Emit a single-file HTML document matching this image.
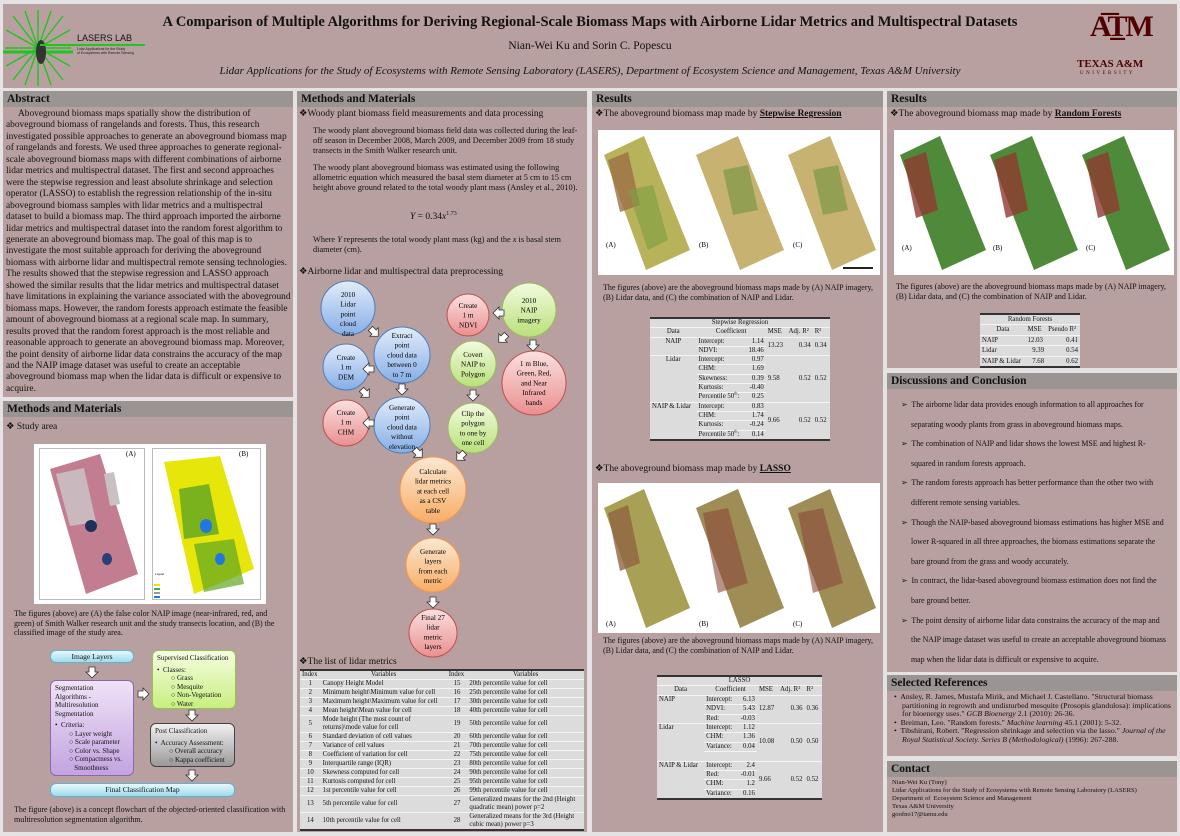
<!DOCTYPE html>
<html><head><meta charset="utf-8">
<style>
*{margin:0;padding:0;box-sizing:border-box}
body{width:1180px;height:836px;background:#e4e2e2;position:relative;overflow:hidden;font-family:"Liberation Serif",serif;color:#111}
.a{position:absolute}
.panel{position:absolute;background:#b7a09f}
.hd{position:absolute;background:#9a9493;font-weight:bold;font-size:11.5px;padding:1px 4px;line-height:14px;color:#111}
.t{position:absolute;font-size:8px;line-height:10px}
table{border-collapse:collapse;font-family:"Liberation Serif",serif;background:#dcdcdc}
td,th{font-weight:normal;padding:0 2px;border-bottom:1px solid #f4f4f4}
.tb{border-top:2px solid #333;border-bottom:2px solid #333}
.sub{font-size:9.5px;position:absolute}
.box{position:absolute;border-radius:6px;font-size:7px;line-height:8.5px}
sup{line-height:0}
</style></head><body>

<!-- HEADER -->
<div class="panel" style="left:3px;top:4px;width:1174px;height:84px"></div>
<svg class="a" style="left:3px;top:8px" width="70" height="80">
<g stroke="#22c322" stroke-width="1.4">
<line x1="35" y1="2" x2="35" y2="78"/><line x1="10" y1="8" x2="60" y2="72"/><line x1="60" y1="8" x2="10" y2="72"/>
<line x1="2" y1="40" x2="68" y2="40"/><line x1="3" y1="22" x2="67" y2="58"/><line x1="3" y1="58" x2="67" y2="22"/>
<line x1="22" y1="3" x2="48" y2="77"/><line x1="48" y1="3" x2="22" y2="77"/></g>
<line x1="0" y1="44" x2="70" y2="44" stroke="#22c322" stroke-width="3"/>
<ellipse cx="38" cy="44" rx="5" ry="12" fill="#333"/></svg>
<div class="a" style="left:40px;top:44px;width:105px;height:2px;background:#22c322"></div>
<div class="a" style="left:77px;top:33px;font-family:'Liberation Sans',sans-serif;font-size:9px;color:#111">LASERS LAB</div>
<div class="a" style="left:77px;top:47px;font-family:'Liberation Sans',sans-serif;font-size:3.5px;line-height:4px;color:#222">Lidar Applications for the Study<br>of Ecosystems with Remote Sensing</div>
<div class="a" style="left:0;width:1180px;top:14px;text-align:center;font-size:14.5px;font-weight:bold">A Comparison of Multiple Algorithms for Deriving Regional-Scale Biomass Maps with Airborne Lidar Metrics and Multispectral Datasets</div>
<div class="a" style="left:0;width:1180px;top:40px;text-align:center;font-size:11.5px">Nian-Wei Ku and Sorin C. Popescu</div>
<div class="a" style="left:0;width:1180px;top:65px;text-align:center;font-size:11px;font-style:italic">Lidar Applications for the Study of Ecosystems with Remote Sensing Laboratory (LASERS), Department of Ecosystem Science and Management, Texas A&amp;M University</div>
<div class="a" style="left:1090px;top:10px;font-size:30px;font-weight:bold;color:#500000;letter-spacing:-2px;font-family:'Liberation Serif',serif">A͞T̲M</div>
<div class="a" style="left:1077px;top:58px;font-size:11px;font-weight:bold;color:#500000">TEXAS A&amp;M</div>
<div class="a" style="left:1080px;top:71px;font-size:5px;letter-spacing:2.5px;color:#500000">UNIVERSITY</div>

<!-- COLUMN 1 -->
<div class="panel" style="left:3px;top:91px;width:290px;height:306px"></div>
<div class="hd" style="left:3px;top:91px;width:290px">Abstract</div>
<div class="t" style="left:6px;top:109px;width:285px;font-size:9.4px;line-height:11.45px;text-indent:12px">Aboveground biomass maps spatially show the distribution of aboveground biomass of rangelands and forests. Thus, this research investigated possible approaches to generate an aboveground biomass map of rangelands and forests. We used three approaches to generate regional-scale aboveground biomass maps with different combinations of airborne lidar metrics and multispectral dataset. The first and second approaches were the stepwise regression and least absolute shrinkage and selection operator (LASSO) to establish the regression relationship of the in-situ aboveground biomass samples with lidar metrics and a multispectral dataset to build a biomass map. The third approach imported the airborne lidar metrics and multispectral dataset into the random forest algorithm to generate an aboveground biomass map. The goal of this map is to investigate the most suitable approach for deriving the aboveground biomass with airborne lidar and multispectral remote sensing technologies. The results showed that the stepwise regression and LASSO approach showed the similar results that the lidar metrics and multispectral dataset have limitations in explaining the variance associated with the aboveground biomass maps. However, the random forests approach estimate the feasible amount of aboveground biomass at a regional scale map. In summary, results proved that the random forest approach is the most reliable and reasonable approach to generate an aboveground biomass map. Moreover, the point density of airborne lidar data constrains the accuracy of the map and the NAIP image dataset was useful to create an acceptable aboveground biomass map when the lidar data is difficult or expensive to acquire.</div>

<div class="panel" style="left:3px;top:401px;width:290px;height:431px"></div>
<div class="hd" style="left:3px;top:401px;width:290px">Methods and Materials</div>
<div class="sub" style="left:6px;top:421px">❖ Study area</div>
<div class="a" style="left:34px;top:444px;width:232px;height:160px;background:#fff"></div>
<div class="a" style="left:39px;top:448px;width:106px;height:152px;border:1px solid #bbb"></div>
<div class="a" style="left:152px;top:448px;width:109px;height:152px;border:1px solid #bbb"></div>
<svg class="a" style="left:34px;top:444px" width="232" height="160">
<polygon points="16,25 66,10 104,130 52,150" fill="#c27e90"/>
<polygon points="22,30 50,24 62,78 36,82" fill="#c9b8bd"/>
<polygon points="70,30 80,28 86,60 76,62" fill="#c9c0c2"/>
<ellipse cx="57" cy="82" rx="6" ry="6" fill="#1f2f55"/>
<ellipse cx="73" cy="115" rx="5" ry="6" fill="#2a3f77"/>
<polygon points="130,18 186,12 220,125 160,150" fill="#e6e60a"/>
<polygon points="145,45 175,40 185,90 150,95" fill="#5fa522" opacity=".8"/>
<polygon points="160,100 200,95 210,140 170,148" fill="#5fa522" opacity=".7"/>
<ellipse cx="172" cy="82" rx="6" ry="7" fill="#2277dd"/>
<ellipse cx="186" cy="115" rx="5" ry="6" fill="#2277dd"/>
<text x="92" y="12" font-size="7" font-family="Liberation Serif">(A)</text>
<text x="205" y="12" font-size="7" font-family="Liberation Serif">(B)</text>
<text x="121" y="131" font-size="3" font-family="Liberation Serif">Legend</text>
<rect x="120" y="140" width="6" height="2" fill="#e6e60a"/><rect x="120" y="144" width="6" height="2" fill="#4a4"/><rect x="120" y="148" width="6" height="2" fill="#999"/><rect x="120" y="152" width="6" height="2" fill="#27d"/>
</svg>
<div class="t" style="left:14px;top:609px;width:275px;font-size:8px;line-height:9.5px">The figures (above) are (A) the false color NAIP image (near-infrared, red, and green) of Smith Walker research unit and the study transects location, and (B) the classified image of the study area.</div>

<div class="box" style="left:50px;top:650px;width:84px;height:13px;background:linear-gradient(#e6f7fc,#9edcec);border:1px solid #5fb3d0;text-align:center;line-height:11px;font-size:7.5px">Image Layers</div>
<div class="box" style="left:50px;top:680px;width:84px;height:96px;background:linear-gradient(#efe3f7,#c3a3e0);border:1px solid #8a67b0;padding:3px 4px">Segmentation<br>Algorithms -<br>Multiresolution<br>Segmentation<br><div style="margin-top:3px">•&nbsp; Criteria:</div><div style="padding-left:14px">○ Layer weight<br>○ Scale parameter<br>○ Color vs. Shape<br>○ Compactness vs.<br>&nbsp;&nbsp;&nbsp;Smoothness</div></div>
<div class="box" style="left:152px;top:650px;width:84px;height:59px;background:linear-gradient(#f5fde0,#c8ef80);border:1px solid #98c050;padding:3px 4px">Supervised Classification<div style="margin-top:3px">•&nbsp; Classes:</div><div style="padding-left:14px">○ Grass<br>○ Mesquite<br>○ Non-Vegetation<br>○ Water</div></div>
<div class="box" style="left:150px;top:723px;width:85px;height:44px;background:linear-gradient(#f0f0f0,#9a9a9a);border:1px solid #444;padding:3px 4px">Post Classification<div style="margin-top:3px">•&nbsp; Accuracy Assessment:</div><div style="padding-left:14px">○ Overall accuracy<br>○ Kappa coefficient</div></div>
<div class="box" style="left:50px;top:783px;width:185px;height:14px;background:linear-gradient(#e6f7fc,#9edcec);border:1px solid #5fb3d0;text-align:center;line-height:12px;font-size:7.5px">Final Classification Map</div>
<svg class="a" style="left:0;top:640px" width="296" height="150">
<defs><g id="ad"><polygon points="-3,-5 3,-5 3,0 6,0 0,6 -6,0 -3,0" fill="#fff" stroke="#333" stroke-width=".8"/></g></defs>
<use href="#ad" x="92" y="32"/><use href="#ad" x="192" y="75"/><use href="#ad" x="192" y="135"/>
<use href="#ad" transform="translate(143,54) rotate(-90)"/>
</svg>
<div class="t" style="left:14px;top:805px;width:280px;font-size:8px;line-height:9.5px">The figure (above) is a concept flowchart of the objected-oriented classification with multiresolution segmentation algorithm.</div>

<!-- COLUMN 2 -->
<div class="panel" style="left:297px;top:91px;width:290px;height:741px"></div>
<div class="hd" style="left:297px;top:91px;width:290px">Methods and Materials</div>
<div class="sub" style="left:299px;top:108px">❖Woody plant biomass field measurements and data processing</div>
<div class="t" style="left:313px;top:126px;width:270px;font-size:8.3px;line-height:10px">The woody plant aboveground biomass field data was collected during the leaf-off season in December 2008, March 2009, and December 2009 from 18 study transects in the Smith Walker research unit.</div>
<div class="t" style="left:313px;top:163px;width:270px;font-size:8.3px;line-height:10px">The woody plant aboveground biomass was estimated using the following allometric equation which measured the basal stem diameter at 5 cm to 15 cm height above ground related to the total woody plant mass (Ansley et al., 2010).</div>
<div class="t" style="left:410px;top:212px;font-size:9.5px"><i>Y</i> = 0.34<i>x</i><sup style="font-size:6px">1.73</sup></div>
<div class="t" style="left:313px;top:235px;width:270px;font-size:8.3px;line-height:10px">Where <i>Y</i> represents the total woody plant mass (kg) and the <i>x</i> is basal stem diameter (cm).</div>
<div class="sub" style="left:299px;top:266px">❖Airborne lidar and multispectral data preprocessing</div>

<svg class="a" style="left:297px;top:270px" width="290" height="390" font-family="Liberation Serif" font-size="7.2" text-anchor="middle">
<defs>
<linearGradient id="gb" x1="0" y1="0" x2="0" y2="1"><stop offset="0" stop-color="#e2ecfb"/><stop offset="1" stop-color="#86aee6"/></linearGradient>
<linearGradient id="gr" x1="0" y1="0" x2="0" y2="1"><stop offset="0" stop-color="#fbe0e0"/><stop offset="1" stop-color="#ea8f8f"/></linearGradient>
<linearGradient id="gg" x1="0" y1="0" x2="0" y2="1"><stop offset="0" stop-color="#f2fbdf"/><stop offset="1" stop-color="#b9e07a"/></linearGradient>
<linearGradient id="go" x1="0" y1="0" x2="0" y2="1"><stop offset="0" stop-color="#fde8d2"/><stop offset="1" stop-color="#f7ad66"/></linearGradient>
<g id="ar"><polygon points="-3,-5 3,-5 3,0 6,0 0,6 -6,0 -3,0" fill="#fff" stroke="#333" stroke-width=".8"/></g>
</defs>
<g stroke-width="1">
<circle cx="51" cy="38" r="27" fill="url(#gb)" stroke="#4a7ebb"/>
<circle cx="105" cy="85" r="28" fill="url(#gb)" stroke="#4a7ebb"/>
<circle cx="49" cy="97" r="23" fill="url(#gb)" stroke="#4a7ebb"/>
<circle cx="105" cy="155" r="28" fill="url(#gb)" stroke="#4a7ebb"/>
<circle cx="49" cy="153" r="23" fill="url(#gr)" stroke="#c0504d"/>
<circle cx="171" cy="45" r="21" fill="url(#gr)" stroke="#c0504d"/>
<circle cx="232" cy="40" r="27" fill="url(#gg)" stroke="#9bbb59"/>
<circle cx="176" cy="94" r="23" fill="url(#gg)" stroke="#9bbb59"/>
<circle cx="237" cy="113" r="32" fill="url(#gr)" stroke="#c0504d"/>
<circle cx="176" cy="158" r="25" fill="url(#gg)" stroke="#9bbb59"/>
<circle cx="136" cy="220" r="33" fill="url(#go)" stroke="#f79646"/>
<circle cx="136" cy="295" r="27" fill="url(#go)" stroke="#f79646"/>
<circle cx="136" cy="363" r="24" fill="url(#gr)" stroke="#c0504d"/>
</g>
<text x="51" y="27">2010<tspan x="51" dy="9.7">Lidar</tspan><tspan x="51" dy="9.7">point</tspan><tspan x="51" dy="9.7">cloud</tspan><tspan x="51" dy="9.7">data</tspan></text>
<text x="105" y="68">Extract<tspan x="105" dy="9.7">point</tspan><tspan x="105" dy="9.7">cloud data</tspan><tspan x="105" dy="9.7">between 0</tspan><tspan x="105" dy="9.7">to 7 m</tspan></text>
<text x="49" y="90">Create<tspan x="49" dy="9.7">1 m</tspan><tspan x="49" dy="9.7">DEM</tspan></text>
<text x="105" y="140">Generate<tspan x="105" dy="9.7">point</tspan><tspan x="105" dy="9.7">cloud data</tspan><tspan x="105" dy="9.7">without</tspan><tspan x="105" dy="9.7">elevation</tspan></text>
<text x="49" y="145">Create<tspan x="49" dy="9.7">1 m</tspan><tspan x="49" dy="9.7">CHM</tspan></text>
<text x="171" y="38">Create<tspan x="171" dy="9.7">1 m</tspan><tspan x="171" dy="9.7">NDVI</tspan></text>
<text x="232" y="33">2010<tspan x="232" dy="9.7">NAIP</tspan><tspan x="232" dy="9.7">imagery</tspan></text>
<text x="176" y="87">Covert<tspan x="176" dy="9.7">NAIP to</tspan><tspan x="176" dy="9.7">Polygon</tspan></text>
<text x="237" y="96">1 m Blue,<tspan x="237" dy="9.7">Green, Red,</tspan><tspan x="237" dy="9.7">and Near</tspan><tspan x="237" dy="9.7">Infrared</tspan><tspan x="237" dy="9.7">bands</tspan></text>
<text x="176" y="146">Clip the<tspan x="176" dy="9.7">polygon</tspan><tspan x="176" dy="9.7">to one by</tspan><tspan x="176" dy="9.7">one cell</tspan></text>
<text x="136" y="204">Calculate<tspan x="136" dy="9.7">lidar metrics</tspan><tspan x="136" dy="9.7">at each cell</tspan><tspan x="136" dy="9.7">as a CSV</tspan><tspan x="136" dy="9.7">table</tspan></text>
<text x="136" y="284">Generate<tspan x="136" dy="9.7">layers</tspan><tspan x="136" dy="9.7">from each</tspan><tspan x="136" dy="9.7">metric</tspan></text>
<text x="136" y="350">Final 27<tspan x="136" dy="9.7">lidar</tspan><tspan x="136" dy="9.7">metric</tspan><tspan x="136" dy="9.7">layers</tspan></text>
<use href="#ar" transform="translate(77,62) rotate(-45)"/>
<use href="#ar" transform="translate(72,99) rotate(90)"/>
<use href="#ar" x="105" y="119"/>
<use href="#ar" transform="translate(68,123) rotate(-45)"/>
<use href="#ar" transform="translate(72,153) rotate(90)"/>
<use href="#ar" transform="translate(202,43) rotate(90)"/>
<use href="#ar" transform="translate(206,68) rotate(45)"/>
<use href="#ar" x="236" y="75"/>
<use href="#ar" x="176" y="125"/>
<use href="#ar" transform="translate(121,183) rotate(-45)"/>
<use href="#ar" transform="translate(164,186) rotate(45)"/>
<use href="#ar" x="136" y="259"/>
<use href="#ar" x="136" y="332"/>
</svg>

<div class="sub" style="left:299px;top:656px">❖The list of lidar metrics</div>
<table class="a tb" style="left:300px;top:669px;width:284px;font-size:6.8px;line-height:8px">
<tr style="border-bottom:1px solid #333"><td>Index</td><td style="text-align:center">Variables</td><td>Index</td><td style="text-align:center">Variables</td></tr>
<tr><td align="center">1</td><td>Canopy Height Model</td><td align="center">15</td><td>20th percentile value for cell</td></tr>
<tr><td align="center">2</td><td>Minimum height\Minimum value for cell</td><td align="center">16</td><td>25th percentile value for cell</td></tr>
<tr><td align="center">3</td><td>Maximum height\Maximum value for cell</td><td align="center">17</td><td>30th percentile value for cell</td></tr>
<tr><td align="center">4</td><td>Mean height\Mean value for cell</td><td align="center">18</td><td>40th percentile value for cell</td></tr>
<tr><td align="center">5</td><td>Mode height (The most count of<br>returns)\mode value for cell</td><td align="center">19</td><td>50th percentile value for cell</td></tr>
<tr><td align="center">6</td><td>Standard deviation of cell values</td><td align="center">20</td><td>60th percentile value for cell</td></tr>
<tr><td align="center">7</td><td>Variance of cell values</td><td align="center">21</td><td>70th percentile value for cell</td></tr>
<tr><td align="center">8</td><td>Coefficient of variation for cell</td><td align="center">22</td><td>75th percentile value for cell</td></tr>
<tr><td align="center">9</td><td>Interquartile range (IQR)</td><td align="center">23</td><td>80th percentile value for cell</td></tr>
<tr><td align="center">10</td><td>Skewness computed for cell</td><td align="center">24</td><td>90th percentile value for cell</td></tr>
<tr><td align="center">11</td><td>Kurtosis computed for cell</td><td align="center">25</td><td>95th percentile value for cell</td></tr>
<tr><td align="center">12</td><td>1st percentile value for cell</td><td align="center">26</td><td>99th percentile value for cell</td></tr>
<tr><td align="center">13</td><td>5th percentile value for cell</td><td align="center">27</td><td>Generalized means for the 2nd (Height<br>quadratic mean) power p=2</td></tr>
<tr><td align="center">14</td><td>10th percentile value for cell</td><td align="center">28</td><td>Generalized means for the 3rd (Height<br>cubic mean) power p=3</td></tr>
</table>

<!-- COLUMN 3 -->
<div class="panel" style="left:592px;top:91px;width:291px;height:741px"></div>
<div class="hd" style="left:592px;top:91px;width:291px">Results</div>
<div class="sub" style="left:595px;top:108px">❖The aboveground biomass map made by <b><u>Stepwise Regression</u></b></div>
<svg class="a" style="left:598px;top:130px" width="282" height="145" font-family="Liberation Serif">
<rect width="282" height="145" fill="#fff"/>
<polygon points="6,25 46,6 92,120 48,140" fill="#b8b25a"/>
<polygon points="10,30 30,22 42,75 22,82" fill="#9c6f45" opacity=".8"/>
<polygon points="30,60 55,55 70,110 50,120" fill="#79a040" opacity=".6"/>
<polygon points="98,25 140,6 186,120 142,140" fill="#c8b272"/>
<polygon points="125,40 150,35 160,80 135,85" fill="#6f9540" opacity=".6"/>
<polygon points="190,25 232,6 278,120 234,140" fill="#c8b272"/>
<polygon points="215,40 240,35 250,80 225,85" fill="#6f9540" opacity=".6"/>
<text x="8" y="117" font-size="7">(A)</text><text x="101" y="117" font-size="7">(B)</text><text x="195" y="117" font-size="7">(C)</text>
<rect x="245" y="137" width="30" height="2" fill="#222"/>
</svg>
<div class="t" style="left:603px;top:283px;width:275px;font-size:8px;line-height:9.8px">The figures (above) are the aboveground biomass maps made by (A) NAIP imagery, (B) Lidar data, and (C) the combination of NAIP and Lidar.</div>
<table class="a tb" style="left:650px;top:317px;width:180px;font-size:6.8px;line-height:8.3px">
<tr style="border-bottom:1px solid #333"><td colspan="6" align="center">Stepwise Regression</td></tr>
<tr style="border-bottom:1px solid #333"><td align="center">Data</td><td colspan="2" align="center">Coefficient</td><td>MSE</td><td>Adj. R²</td><td>R²</td></tr>
<tr><td rowspan="2" align="center" valign="top">NAIP</td><td>Intercept:</td><td align="right">1.14</td><td rowspan="2">13.23</td><td rowspan="2" align="right">0.34</td><td rowspan="2">0.34</td></tr>
<tr><td>NDVI:</td><td align="right">18.46</td></tr>
<tr><td rowspan="5" align="center" valign="top">Lidar</td><td>Intercept:</td><td align="right">0.97</td><td rowspan="5">9.58</td><td rowspan="5" align="right">0.52</td><td rowspan="5">0.52</td></tr>
<tr><td>CHM:</td><td align="right">1.69</td></tr><tr><td>Skewness:</td><td align="right">0.39</td></tr><tr><td>Kurtosis:</td><td align="right">-0.40</td></tr><tr><td>Percentile 50<sup style="font-size:4px">th</sup>:</td><td align="right">0.25</td></tr>
<tr><td rowspan="4" valign="top">NAIP &amp; Lidar</td><td>Intercept:</td><td align="right">0.83</td><td rowspan="4">9.66</td><td rowspan="4" align="right">0.52</td><td rowspan="4">0.52</td></tr>
<tr><td>CHM:</td><td align="right">1.74</td></tr><tr><td>Kurtosis:</td><td align="right">-0.24</td></tr><tr><td>Percentile 50<sup style="font-size:4px">th</sup>:</td><td align="right">0.14</td></tr>
</table>

<div class="sub" style="left:595px;top:463px">❖The aboveground biomass map made by <b><u>LASSO</u></b></div>
<svg class="a" style="left:598px;top:483px" width="282" height="150" font-family="Liberation Serif">
<rect width="282" height="150" fill="#fff"/>
<polygon points="6,25 46,6 92,125 48,145" fill="#a8a055"/>
<polygon points="10,30 30,22 42,80 22,88" fill="#8f6440" opacity=".8"/>
<polygon points="98,25 140,6 186,125 142,145" fill="#9e8d55"/>
<polygon points="105,30 130,25 150,100 120,110" fill="#8a4a3a" opacity=".6"/>
<polygon points="190,25 232,6 278,125 234,145" fill="#9e8d55"/>
<polygon points="200,30 225,25 245,100 215,110" fill="#8a4a3a" opacity=".6"/>
<text x="8" y="143" font-size="7">(A)</text><text x="101" y="143" font-size="7">(B)</text><text x="195" y="143" font-size="7">(C)</text>
</svg>
<div class="t" style="left:603px;top:636px;width:275px;font-size:8px;line-height:9.8px">The figures (above) are the aboveground biomass maps made by (A) NAIP imagery, (B) Lidar data, and (C) the combination of NAIP and Lidar.</div>
<table class="a tb" style="left:657px;top:675px;width:165px;font-size:6.8px;line-height:8.4px">
<tr style="border-bottom:1px solid #333"><td colspan="6" align="center">LASSO</td></tr>
<tr style="border-bottom:1px solid #333"><td align="center">Data</td><td colspan="2" align="center">Coefficient</td><td>MSE</td><td>Adj. R²</td><td>R²</td></tr>
<tr><td rowspan="3" valign="top">NAIP</td><td>Intercept:</td><td align="right">6.13</td><td rowspan="3">12.87</td><td rowspan="3" align="right">0.36</td><td rowspan="3">0.36</td></tr>
<tr><td>NDVI:</td><td align="right">5.43</td></tr><tr><td>Red:</td><td align="right">-0.03</td></tr>
<tr><td rowspan="4" valign="top">Lidar</td><td>Intercept:</td><td align="right">1.12</td><td rowspan="4">10.08</td><td rowspan="4" align="right">0.50</td><td rowspan="4">0.50</td></tr>
<tr><td>CHM:</td><td align="right">1.36</td></tr><tr><td>Variance:</td><td align="right">0.04</td></tr><tr><td>&nbsp;</td><td></td></tr>
<tr><td rowspan="4" valign="top">NAIP &amp; Lidar</td><td>Intercept:</td><td align="right">2.4</td><td rowspan="4">9.66</td><td rowspan="4" align="right">0.52</td><td rowspan="4">0.52</td></tr>
<tr><td>Red:</td><td align="right">-0.01</td></tr><tr><td>CHM:</td><td align="right">1.2</td></tr><tr><td>Variance:</td><td align="right">0.16</td></tr>
</table>

<!-- COLUMN 4 -->
<div class="panel" style="left:887px;top:91px;width:290px;height:277px"></div>
<div class="hd" style="left:887px;top:91px;width:290px">Results</div>
<div class="sub" style="left:890px;top:108px">❖The aboveground biomass map made by <b><u>Random Forests</u></b></div>
<svg class="a" style="left:894px;top:130px" width="280" height="145" font-family="Liberation Serif">
<rect width="280" height="145" fill="#fff"/>
<polygon points="6,25 46,6 92,120 48,140" fill="#4f8a3a"/>
<polygon points="10,30 32,22 44,80 22,88" fill="#8e3a30" opacity=".8"/>
<polygon points="96,25 138,6 184,120 140,140" fill="#4f8a3a"/>
<polygon points="100,30 122,22 134,80 112,88" fill="#8e3a30" opacity=".8"/>
<polygon points="188,25 230,6 276,120 232,140" fill="#4f8a3a"/>
<polygon points="192,30 214,22 226,80 204,88" fill="#8e3a30" opacity=".8"/>
<text x="8" y="120" font-size="7">(A)</text><text x="99" y="120" font-size="7">(B)</text><text x="192" y="120" font-size="7">(C)</text>
</svg>
<div class="t" style="left:896px;top:282px;width:278px;font-size:8px;line-height:9.8px">The figures (above) are the aboveground biomass maps made by (A) NAIP imagery, (B) Lidar data, and (C) the combination of NAIP and Lidar.</div>
<table class="a tb" style="left:980px;top:313px;width:100px;font-size:6.8px;line-height:9.4px">
<tr style="border-bottom:1px solid #333"><td colspan="3" align="center">Random Forests</td></tr>
<tr style="border-bottom:1px solid #333"><td align="center">Data</td><td>MSE</td><td>Pseudo R²</td></tr>
<tr><td>NAIP</td><td>12.03</td><td align="right">0.41</td></tr>
<tr><td>Lidar</td><td align="right">9.39</td><td align="right">0.54</td></tr>
<tr><td>NAIP &amp; Lidar</td><td align="right">7.68</td><td align="right">0.62</td></tr>
</table>

<div class="panel" style="left:887px;top:373px;width:290px;height:299px"></div>
<div class="hd" style="left:887px;top:373px;width:290px">Discussions and Conclusion</div>
<div class="t" style="left:896px;top:395px;width:272px;font-size:7.9px;line-height:19.6px">
<div style="padding-left:15px;text-indent:-10px">➢&nbsp; The airborne lidar data provides enough information to all approaches for separating woody plants from grass in aboveground biomass maps.</div>
<div style="padding-left:15px;text-indent:-10px">➢&nbsp; The combination of NAIP and lidar shows the lowest MSE and highest R-squared in random forests approach.</div>
<div style="padding-left:15px;text-indent:-10px">➢&nbsp; The random forests approach has better performance than the other two with different remote sensing variables.</div>
<div style="padding-left:15px;text-indent:-10px">➢&nbsp; Though the NAIP-based aboveground biomass estimations has higher MSE and lower R-squared in all three approaches, the biomass estimations separate the bare ground from the grass and woody accurately.</div>
<div style="padding-left:15px;text-indent:-10px">➢&nbsp; In contract, the lidar-based aboveground biomass estimation does not find the bare ground better.</div>
<div style="padding-left:15px;text-indent:-10px">➢&nbsp; The point density of airborne lidar data constrains the accuracy of the map and the NAIP image dataset was useful to create an acceptable aboveground biomass map when the lidar data is difficult or expensive to acquire.</div>
</div>

<div class="panel" style="left:887px;top:675px;width:290px;height:81px"></div>
<div class="hd" style="left:887px;top:675px;width:290px">Selected References</div>
<div class="t" style="left:892px;top:693px;width:283px;font-size:7.8px;line-height:8.6px">
<div style="padding-left:10px;text-indent:-8px">•&nbsp; Ansley, R. James, Mustafa Mirik, and Michael J. Castellano. "Structural biomass partitioning in regrowth and undisturbed mesquite (Prosopis glandulosa): implications for bioenergy uses." <i>GCB Bioenergy</i> 2.1 (2010): 26-36.</div>
<div style="padding-left:10px;text-indent:-8px">•&nbsp; Breiman, Leo. "Random forests." <i>Machine learning</i> 45.1 (2001): 5-32.</div>
<div style="padding-left:10px;text-indent:-8px">•&nbsp; Tibshirani, Robert. "Regression shrinkage and selection via the lasso." <i>Journal of the Royal Statistical Society. Series B (Methodological)</i> (1996): 267-288.</div>
</div>

<div class="panel" style="left:887px;top:761px;width:290px;height:71px"></div>
<div class="hd" style="left:887px;top:761px;width:290px">Contact</div>
<div class="t" style="left:892px;top:779px;width:283px;font-size:6.6px;line-height:7.9px">Nian-Wei Ku (Tony)<br>Lidar Applications for the Study of Ecosystems with Remote Sensing Laboratory (LASERS)<br>Department of&nbsp; Ecosystem Science and Management<br>Texas A&amp;M University<br>goofno17@tamu.edu</div>
</body></html>
